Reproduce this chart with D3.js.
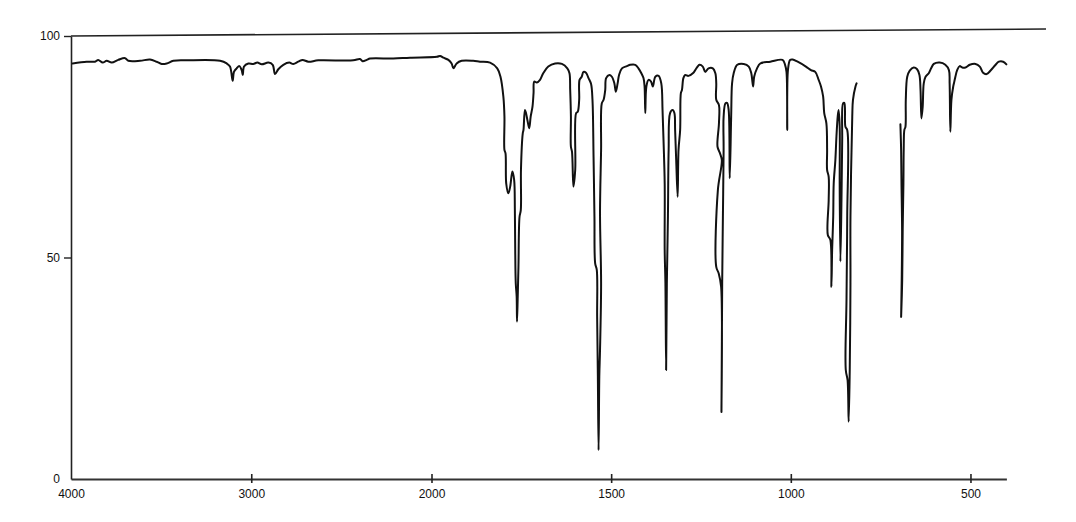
<!DOCTYPE html>
<html>
<head>
<meta charset="utf-8">
<script src="https://cdn.jsdelivr.net/npm/d3@7"></script>
<style>
  body { margin: 0; background: #fff; }
  svg { display: block; }
  .axis text { font-family: "Liberation Sans", Arial, sans-serif; font-size: 12px; fill: #111; }
</style>
</head>
<body>
<script>
// wavenumber (cm-1) and %T for the main trace
var waveA = [3991,3913,3867,3849,3824,3802,3774,3738,3700,3682,3617,3562,3525,3497,3469,3432,3358,3173,3136,3118,3103,3096,3081,3066,3053,3047,3040,3016,2989,2966,2942,2905,2881,2868,2850,2822,2789,2767,2739,2715,2683,2628,2434,2397,2382,2359,2341,2212,2119,1985,1976,1967,1953,1944,1939,1930,1916,1884,1865,1837,1817,1808,1800,1797,1797,1794,1792,1786,1781,1775,1770,1768,1767,1765.5,1763,1762,1760,1758,1755,1751.5,1751,1746,1744,1740,1737,1733,1728,1724,1719,1716,1714,1707,1698,1689,1675,1656,1637,1622,1616,1614,1612,1612,1609,1605,1600,1597.5,1593,1589,1588,1582,1577,1570,1563,1556,1552,1549,1546.5,1544.5,1540,1539,1537,1535,1533,1531,1528,1531,1528,1526,1521,1516.5,1514,1505,1498,1491,1487,1482,1478,1470,1456,1447,1433,1424,1416,1410,1407,1405,1402,1396,1389,1384,1377,1368,1360.5,1357,1354,1351,1351,1349,1347,1345,1342,1340,1336,1329,1324,1322,1319,1315,1312.5,1308,1306,1303,1299,1294,1285,1271,1266,1254,1245,1238,1229,1217,1210,1207.5,1207.5,1200,1200,1204,1197,1192,1203,1207.5,1200.6,1194,1193,1191,1189,1187,1187,1182,1177.5,1173,1170,1166,1163.5,1159,1149,1131,1117,1110,1105,1102,1094,1085,1057,1023,1016,1012,1010,1008,1002,995,981,958,944,932,922.5,916,910,907,901,899,899,894.6,894.6,897,890,887,885,882,880.6,876,873,869.5,867,864,864,862,859,857,854.5,851,848,843,843,845,847,842,839,836,834,834,829,827,820,817];
var transA = [93.8,94.2,94.2,94.6,94.0,94.4,94.0,94.6,95.0,94.4,94.4,94.7,94.2,93.7,93.8,94.4,94.5,94.4,93.8,93.1,89.9,91.9,92.7,93.2,92.3,91.2,93.1,93.8,93.7,94.0,93.6,94.0,93.5,91.4,92.5,93.5,94.0,93.7,94.2,94.6,94.2,94.5,94.5,94.8,94.3,94.6,94.9,94.9,95.1,95.3,95.5,95.1,94.6,93.8,92.7,93.8,94.4,94.4,94.2,94.0,92.7,90.8,86.3,81.8,74.3,73.5,66.7,64.5,66.0,69.4,67.5,60.7,51.7,44.2,41.2,35.5,41.2,47.9,59.2,60.7,69.8,78.0,78.8,83.3,82.6,81.0,79.2,81.8,84.0,87.1,89.7,89.5,90.1,91.6,93.1,93.8,93.7,92.7,91.6,87.8,81.8,75.0,73.9,66.0,69.8,82.6,82.9,85.6,90.1,90.8,91.9,91.7,90.5,89.2,85.6,72.8,59.2,48.7,47.2,36.6,23.1,6.5,23.1,29.1,44.2,60.0,74.3,84.8,85.6,87.8,90.5,91.2,90.8,89.3,87.4,89.3,91.2,92.7,93.2,93.5,93.5,92.7,91.6,90.5,88.6,82.6,88.6,90.1,89.7,88.6,90.8,91.0,89.3,83.3,75.8,66.7,51.7,44.2,24.6,44.2,59.2,74.3,82.6,83.3,82.6,78.8,72.0,63.7,74.3,78.8,87.1,87.8,90.5,91.2,91.0,91.7,92.3,93.5,93.1,91.9,92.7,92.7,91.6,89.3,85.6,84.4,80.3,75.0,73.5,72.0,65.2,47.9,46.4,43.4,15.1,44.2,59.2,74.3,81.8,84.8,84.9,83.3,67.9,81.8,89.3,91.6,93.5,93.7,93.1,91.6,88.6,90.8,92.7,93.8,94.2,94.6,93.5,91.9,78.8,92.3,94.6,94.7,94.2,93.1,92.3,91.9,90.1,88.6,86.3,82.6,80.3,74.3,69.8,68.2,63.0,55.1,54.0,43.4,51.7,59.2,66.7,72.0,77.3,81.8,83.3,79.5,66.7,49.1,63.0,76.5,84.8,84.9,79.5,78.8,59.2,40.4,24.6,22.3,12.9,24.6,44.2,59.2,81.8,85.6,88.6,89.3];

// second stroke of the trace (below 700 cm-1)
var waveB = [695,693,692,690.3,691.4,693,690,688.6,686.6,685.8,684,681,680,676,669,658,648.5,642,639,636.5,633,630,625,616,609.5,602,585.5,570,560,558,556,553,548,545,542,537,530,523,514,502,486,474,465,455,444,430,421,409,400];
var transB = [80.1,74.3,66.7,56.2,44.9,36.6,44.9,56.2,66.7,74.3,78.8,79.5,85.6,90.8,92.2,92.9,92.5,91.2,87.8,81.4,84.0,89.3,90.8,91.6,92.7,93.7,94.0,93.5,92.3,89.3,78.4,85.6,88.6,89.7,90.8,92.3,93.2,92.9,92.9,93.5,93.7,93.1,91.7,91.4,92.2,93.5,94.2,94.2,93.6];

var xTicks = [4000, 3000, 2000, 1500, 1000, 500];
var yTicks = [0, 50, 100];

var W = 1076, H = 522;

var svg = d3.select("body").append("svg")
    .attr("width", W)
    .attr("height", H);

// scale changes at 2000 cm-1, like the usual IR chart paper
var x = d3.scaleLinear().domain([4000, 2000, 400]).range([71, 431.5, 1006.4]);
var y = d3.scaleLinear().domain([0, 100]).range([479, 36]);

// top 100% line, a bit slanted as drawn
svg.append("line")
    .attr("x1", x(4000)).attr("y1", y(100))
    .attr("x2", 1046).attr("y2", y(100) - 7)
    .attr("stroke", "#222").attr("stroke-width", 1.6);

var gx = svg.append("g").attr("class", "axis")
    .attr("transform", "translate(0," + y(0) + ")")
    .call(d3.axisBottom(x).tickValues(xTicks).tickFormat(d3.format("d")).tickSize(4).tickSizeOuter(0));
gx.select(".domain").attr("stroke", "#333").attr("stroke-width", 1.8);
gx.selectAll(".tick line").attr("y1", -5).attr("y2", 4)
    .attr("stroke", "#222").attr("stroke-width", 1.6)
    .attr("display", function(d){ return d == 4000 ? "none" : null; });
gx.selectAll(".tick text").attr("y", 10);

var gy = svg.append("g").attr("class", "axis")
    .attr("transform", "translate(" + x(4000) + ",0)")
    .call(d3.axisLeft(y).tickValues(yTicks).tickFormat(d3.format("d")).tickSize(7).tickSizeOuter(0));
gy.select(".domain").attr("stroke", "#222").attr("stroke-width", 1.6);
gy.selectAll(".tick line").attr("stroke", "#222").attr("stroke-width", 1.4)
    .attr("display", function(d){ return d == 0 ? "none" : null; });
gy.selectAll(".tick text").attr("x", -11);

var line = d3.line()
    .x(function(d){ return x(d[0]); })
    .y(function(d){ return y(d[1]); })
    .curve(d3.curveCatmullRom.alpha(0.5));

var segs = [d3.zip(waveA, transA), d3.zip(waveB, transB)];

svg.selectAll("path.trace")
    .data(segs)
    .enter().append("path")
    .attr("class", "trace")
    .attr("d", line)
    .attr("fill", "none")
    .attr("stroke", "#111")
    .attr("stroke-width", 2)
    .attr("stroke-linejoin", "round")
    .attr("stroke-linecap", "round");
</script>
</body>
</html>
